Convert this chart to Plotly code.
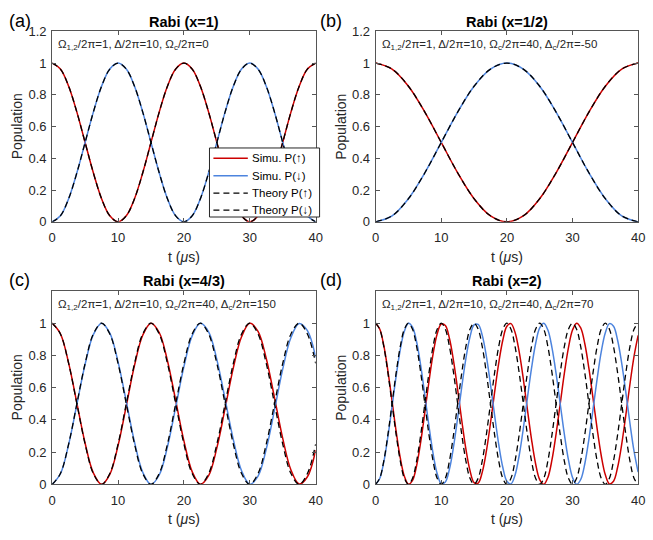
import numpy as np
import plotly.graph_objects as go

# ---------------------------------------------------------------------------
# Population data (sampled values), one set per panel
# ---------------------------------------------------------------------------
# (a) x = 1, samples every 1.25 us
t_a = np.linspace(0, 40, 33)
a_sim_up = [1, .962, .854, .691, .5, .309, .146, .038, 0, .038, .146, .309, .5, .691, .854, .962,
            1, .962, .854, .691, .5, .309, .146, .038, 0, .038, .146, .309, .5, .691, .854, .962, 1]
a_sim_down = [0, .038, .146, .309, .5, .691, .854, .962, 1, .962, .854, .691, .5, .309, .146, .038,
              0, .038, .146, .309, .5, .691, .854, .962, 1, .962, .854, .691, .5, .309, .146, .038, 0]
a_th_up = [1, .962, .854, .691, .5, .309, .146, .038, 0, .038, .146, .309, .5, .691, .854, .962,
           1, .962, .854, .691, .5, .309, .146, .038, 0, .038, .146, .309, .5, .691, .854, .962, 1]
a_th_down = [0, .038, .146, .309, .5, .691, .854, .962, 1, .962, .854, .691, .5, .309, .146, .038,
             0, .038, .146, .309, .5, .691, .854, .962, 1, .962, .854, .691, .5, .309, .146, .038, 0]

# (b) x = 1/2, samples every 2.5 us
t_b = np.linspace(0, 40, 17)
b_sim_up = [1, .962, .854, .691, .5, .309, .146, .038, 0, .038, .146, .309, .5, .691, .854, .962, 1]
b_sim_down = [0, .038, .146, .309, .5, .691, .854, .962, 1, .962, .854, .691, .5, .309, .146, .038, 0]
b_th_up = [1, .962, .854, .691, .5, .309, .146, .038, 0, .038, .146, .309, .5, .691, .854, .962, 1]
b_th_down = [0, .038, .146, .309, .5, .691, .854, .962, 1, .962, .854, .691, .5, .309, .146, .038, 0]

# (c) x = 4/3, samples every 1.25 us
t_c = np.linspace(0, 40, 33)
c_sim_up = [1, .934, .752, .504, .255, .071, 0, .062, .240, .487, .738, .925, 1, .942, .767, .521,
            .270, .079, .001, .054, .226, .471, .723, .916, .999, .949, .781, .538, .285, .089,
            .002, .047, .212]
c_sim_down = [0, .066, .248, .496, .745, .929, 1, .938, .760, .513, .262, .075, 0, .058, .233, .479,
              .730, .921, .999, .946, .774, .529, .277, .084, .001, .051, .219, .462, .715, .911,
              .998, .953, .788]
c_th_up = [1, .933, .75, .5, .25, .067, 0, .067, .25, .5, .75, .933,
           1, .933, .75, .5, .25, .067, 0, .067, .25, .5, .75, .933,
           1, .933, .75, .5, .25, .067, 0, .067, .25]
c_th_down = [0, .067, .25, .5, .75, .933, 1, .933, .75, .5, .25, .067,
             0, .067, .25, .5, .75, .933, 1, .933, .75, .5, .25, .067,
             0, .067, .25, .5, .75, .933, 1, .933, .75]

# (d) x = 2, samples every 0.625 us
t_d = np.linspace(0, 40, 65)
d_sim_up = [1, .964, .860, .703, .517, .329, .165, .051, .001, .025,
            .117, .265, .448, .638, .808, .933, .995, .985, .905, .765,
            .587, .396, .220, .086, .011, .008, .076, .206, .379, .570,
            .750, .894, .981, .997, .942, .821, .655, .465, .281, .128,
            .030, 0, .043, .153, .313, .5, .687, .847, .957, 1,
            .970, .872, .719, .535, .346, .179, .059, .003, .019, .106,
            .25, .430, .621, .794, .924]
d_sim_down = [0, .036, .140, .297, .483, .671, .835, .949, .999, .975,
              .883, .735, .552, .362, .192, .067, .005, .015, .095, .235,
              .413, .604, .780, .914, .989, .992, .924, .794, .621, .430,
              .250, .106, .019, .003, .058, .179, .345, .535, .719, .872,
              .970, 1, .957, .847, .687, .5, .313, .153, .043, 0,
              .030, .128, .281, .465, .654, .821, .941, .997, .981, .894,
              .75, .570, .379, .206, .076]
d_th_up = [1, .962, .854, .691, .5, .309, .146, .038, 0, .038, .146, .309, .5, .691, .854, .962,
           1, .962, .854, .691, .5, .309, .146, .038, 0, .038, .146, .309, .5, .691, .854, .962,
           1, .962, .854, .691, .5, .309, .146, .038, 0, .038, .146, .309, .5, .691, .854, .962,
           1, .962, .854, .691, .5, .309, .146, .038, 0, .038, .146, .309, .5, .691, .854, .962, 1]
d_th_down = [0, .038, .146, .309, .5, .691, .854, .962, 1, .962, .854, .691, .5, .309, .146, .038,
             0, .038, .146, .309, .5, .691, .854, .962, 1, .962, .854, .691, .5, .309, .146, .038,
             0, .038, .146, .309, .5, .691, .854, .962, 1, .962, .854, .691, .5, .309, .146, .038,
             0, .038, .146, .309, .5, .691, .854, .962, 1, .962, .854, .691, .5, .309, .146, .038, 0]

panel_letters = ["(a)", "(b)", "(c)", "(d)"]
panel_titles = ["Rabi (x=1)", "Rabi (x=1/2)", "Rabi (x=4/3)", "Rabi (x=2)"]
panel_params = [
    "Ω<sub>1,2</sub>/2π=1, Δ/2π=10, Ω<sub>c</sub>/2π=0",
    "Ω<sub>1,2</sub>/2π=1, Δ/2π=10, Ω<sub>c</sub>/2π=40, Δ<sub>c</sub>/2π=-50",
    "Ω<sub>1,2</sub>/2π=1, Δ/2π=10, Ω<sub>c</sub>/2π=40, Δ<sub>c</sub>/2π=150",
    "Ω<sub>1,2</sub>/2π=1, Δ/2π=10, Ω<sub>c</sub>/2π=40, Δ<sub>c</sub>/2π=70",
]
legend_names = ["Simu. P(↑)", "Simu. P(↓)", "Theory P(↑)", "Theory P(↓)"]
x_ticks = [0, 10, 20, 30, 40]
y_ticks_top = [0, 0.2, 0.4, 0.6, 0.8, 1, 1.2]
y_ticks_bottom = [0, 0.2, 0.4, 0.6, 0.8, 1]

panels = [
    (t_a, a_sim_up, a_sim_down, a_th_up, a_th_down),
    (t_b, b_sim_up, b_sim_down, b_th_up, b_th_down),
    (t_c, c_sim_up, c_sim_down, c_th_up, c_th_down),
    (t_d, d_sim_up, d_sim_down, d_th_up, d_th_down),
]

# ---------------------------------------------------------------------------
# Styling / geometry
# ---------------------------------------------------------------------------
W, H = 653, 540
FONT = "Liberation Sans, Arial, Helvetica, sans-serif"
RED = "rgb(204,0,0)"
BLUE = "rgb(77,132,222)"
AXIS = "#555555"
TXT = "#262626"
DASH = "6px,4px"
SIM_W, TH_W = 1.5, 1.3

# series styles shared by the curves and the legend box
series_styles = [
    dict(color=RED, width=SIM_W),
    dict(color=BLUE, width=SIM_W),
    dict(color="black", width=TH_W, dash=DASH),
    dict(color="black", width=TH_W, dash=DASH),
]

# axis boxes in pixels: (left, right, top, bottom)
boxes = [(49, 317, 25, 221), (378, 645, 25, 221), (49, 317, 292, 491), (378, 645, 292, 491)]


def px_x(v):
    return v / W


def px_y(v):
    return 1 - v / H


fig = go.Figure()

for i, series in enumerate(panels):
    t = series[0]
    xa = "x" if i == 0 else f"x{i + 1}"
    ya = "y" if i == 0 else f"y{i + 1}"
    for k in range(4):
        fig.add_trace(go.Scatter(x=t, y=series[k + 1], xaxis=xa, yaxis=ya, mode="lines",
                                 name=legend_names[k], showlegend=False,
                                 line=dict(shape="spline", **series_styles[k])))

annotations = []
shapes = []
layout_axes = {}
for i, (l, r, tp, bt) in enumerate(boxes):
    xkey = "xaxis" if i == 0 else f"xaxis{i + 1}"
    ykey = "yaxis" if i == 0 else f"yaxis{i + 1}"
    anchor_x = "y" if i == 0 else f"y{i + 1}"
    anchor_y = "x" if i == 0 else f"x{i + 1}"
    common = dict(showline=True, linecolor=AXIS, linewidth=1, mirror="ticks", ticks="inside",
                  ticklen=4, tickcolor=AXIS, tickwidth=1, showgrid=False, zeroline=False,
                  tickfont=dict(family=FONT, size=13, color=TXT))
    layout_axes[xkey] = dict(domain=[px_x(l), px_x(r)], anchor=anchor_x, range=[0, 40],
                             tickvals=x_ticks, ticklabelstandoff=4, **common)
    layout_axes[ykey] = dict(domain=[px_y(bt), px_y(tp)], anchor=anchor_y, range=[0, 1.2],
                             tickvals=y_ticks_top if i < 2 else y_ticks_bottom,
                             ticklabelstandoff=2, **common)

    cx = (l + r) / 2
    cy = (tp + bt) / 2
    title_y = tp - 10
    letter_x = 3 if l < 300 else 319
    # panel letter
    annotations.append(dict(text=panel_letters[i], x=px_x(letter_x), y=px_y(title_y - 1), xref="paper",
                            yref="paper", xanchor="left", yanchor="middle", showarrow=False,
                            font=dict(family=FONT, size=18, color="black")))
    # bold panel title
    annotations.append(dict(text=f"<b>{panel_titles[i]}</b>", x=px_x(cx), y=px_y(title_y),
                            xref="paper", yref="paper", xanchor="center", yanchor="middle",
                            showarrow=False, font=dict(family=FONT, size=14.5, color="black")))
    # parameter line inside the axes
    annotations.append(dict(text=panel_params[i], x=px_x(l + 4), y=px_y(tp + 14), xref="paper",
                            yref="paper", xanchor="left", yanchor="middle", showarrow=False,
                            font=dict(family=FONT, size=11.5, color=TXT)))
    # y axis title
    annotations.append(dict(text="Population", x=px_x(l - 36), y=px_y(cy), xref="paper",
                            yref="paper", xanchor="center", yanchor="middle", textangle=-90,
                            showarrow=False, font=dict(family=FONT, size=14, color=TXT)))
    # x axis title
    annotations.append(dict(text="t (<i>μ</i>s)", x=px_x(cx), y=px_y(bt + 36), xref="paper",
                            yref="paper", xanchor="center", yanchor="middle", showarrow=False,
                            font=dict(family=FONT, size=14, color=TXT)))

# legend box for panel (a)
LEG_L, LEG_R, LEG_T, LEG_B = 209, 321, 145, 216
legend_rows = [155.5, 173.5, 191.5, 209]
shapes.append(dict(type="rect", xref="paper", yref="paper", x0=px_x(LEG_L), x1=px_x(LEG_R),
                   y0=px_y(LEG_B), y1=px_y(LEG_T), fillcolor="white",
                   line=dict(color="#262626", width=1), layer="above"))
for k, yrow in enumerate(legend_rows):
    shapes.append(dict(type="line", xref="paper", yref="paper", x0=px_x(213), x1=px_x(248),
                       y0=px_y(yrow), y1=px_y(yrow), layer="above", line=series_styles[k]))
    annotations.append(dict(text=legend_names[k], x=px_x(250), y=px_y(yrow), xref="paper",
                            yref="paper", xanchor="left", yanchor="middle", showarrow=False,
                            font=dict(family=FONT, size=11.5, color="black")))

fig.update_layout(
    width=W, height=H,
    margin=dict(l=0, r=0, t=0, b=0),
    paper_bgcolor="white", plot_bgcolor="white",
    font=dict(family=FONT, color=TXT),
    showlegend=False,
    annotations=annotations,
    shapes=shapes,
    **layout_axes,
)

fig.write_html("out.html")
